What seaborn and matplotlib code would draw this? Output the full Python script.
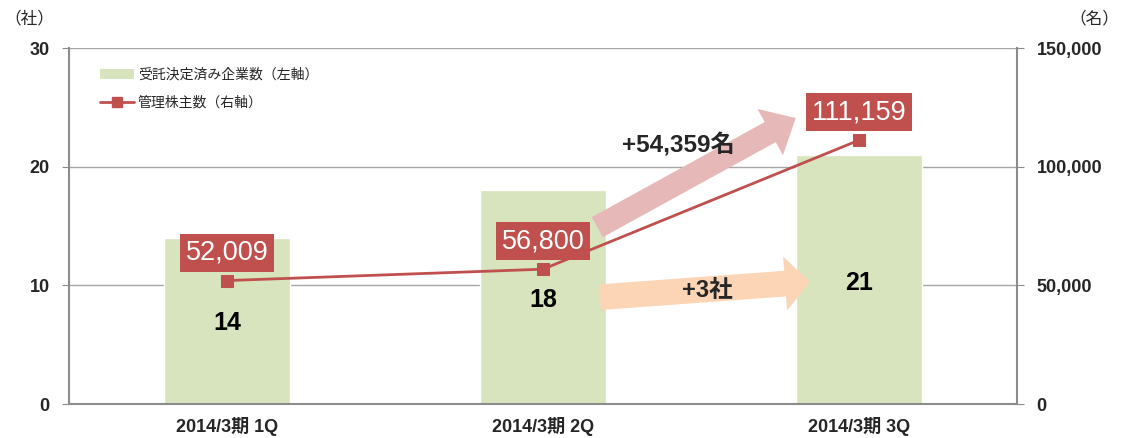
import matplotlib
matplotlib.use("Agg")
import matplotlib.pyplot as plt
import matplotlib.ticker as mticker
from matplotlib.patches import FancyArrowPatch, Patch
from matplotlib.lines import Line2D
import numpy as np
import seaborn as sns

# data
quarters = ["2014/3期 1Q", "2014/3期 2Q", "2014/3期 3Q"]
companies = [14, 18, 21]           # 受託決定済み企業数 (left axis)
holders = [52009, 56800, 111159]   # 管理株主数 (right axis)
holder_labels = ["52,009", "56,800", "111,159"]
company_delta = "+3社"
holder_delta = "+54,359名"

sns.set_style("white")
FONT = ["Liberation Sans", "Noto Sans CJK JP"]
plt.rcParams["font.family"] = FONT

GREEN = "#D7E4BD"
RED = "#C0504D"
PINK = "#E6B9B8"
PEACH = "#FBD5B5"
GRID = "#A6A6A6"

fig = plt.figure(figsize=(11.23, 4.38), dpi=100)
ax = fig.add_axes([0.0614, 0.0776, 0.8442, 0.8128])

sns.barplot(x=quarters, y=companies, color=GREEN, width=0.4, saturation=1,
            ax=ax, zorder=2)
ax.set_xlim(-0.5, 2.5)
ax.set_ylim(0, 30)
ax.set_yticks([0, 10, 20, 30])
ax.yaxis.grid(True, color=GRID, lw=1)
ax.set_axisbelow(True)
ax.set_xlabel("")
ax.set_ylabel("")
for s in ["left", "bottom", "right"]:
    ax.spines[s].set_color("#8C8C8C")
    ax.spines[s].set_linewidth(1.5)
ax.spines["top"].set_visible(False)
ax.tick_params(axis="y", direction="out", length=5, color="#8C8C8C",
               labelsize=13, pad=9)
ax.tick_params(axis="x", length=0, labelsize=13, pad=9)
ax.set_xticks([-0.5, 0.5, 1.5, 2.5], minor=True)
ax.tick_params(axis="x", which="minor", direction="out", length=5,
               color="#8C8C8C")
for t in ax.get_xticklabels() + ax.get_yticklabels():
    t.set_fontweight("bold")

# bar values
for i, v in enumerate(companies):
    ax.text(i, v * 0.485, str(v), ha="center", va="center",
            fontsize=18, fontweight="bold", color="black", zorder=5)

ax2 = ax.twinx()
sns.lineplot(x=np.arange(len(holders)), y=holders, ax=ax2, color=RED,
             lw=2, marker="s", markersize=8, markeredgecolor=RED, zorder=4)
ax2.set_ylim(0, 150000)
ax2.set_yticks([0, 50000, 100000, 150000])
ax2.yaxis.set_major_formatter(mticker.FuncFormatter(lambda v, p: f"{int(v):,}"))
ax2.tick_params(axis="y", direction="out", length=5, color="#8C8C8C",
                labelsize=13, pad=9)
for t in ax2.get_yticklabels():
    t.set_fontweight("bold")
for s in ax2.spines.values():
    s.set_visible(False)
ax2.set_ylabel("")

for i, (v, lab) in enumerate(zip(holders, holder_labels)):
    ax2.annotate(lab, xy=(i, v), xytext=(0, 20), textcoords="offset points",
                 ha="center", va="center", fontsize=19.5, color="white",
                 bbox=dict(boxstyle="square,pad=0.22", fc=RED, ec="none"),
                 zorder=6)

# growth arrows (left-axis data coords)
pink = FancyArrowPatch((1.172, 14.9), (1.80, 24.1),
                       arrowstyle="simple,head_length=2.1,head_width=3.8,tail_width=1.65",
                       mutation_scale=10, fc=PINK, ec="none", shrinkA=0, shrinkB=0,
                       zorder=3)
ax.add_patch(pink)
peach = FancyArrowPatch((1.18, 9.0), (1.845, 10.3),
                        arrowstyle="simple,head_length=1.8,head_width=3.9,tail_width=1.85",
                        mutation_scale=10, fc=PEACH, ec="none", shrinkA=0, shrinkB=0,
                        zorder=3)
ax.add_patch(peach)
ax.text(1.43, 21.8, holder_delta, ha="center", va="center", fontsize=17.5,
        fontweight="bold", zorder=5)
ax.text(1.52, 9.6, company_delta, ha="center", va="center", fontsize=17,
        fontweight="bold", zorder=5)

# unit labels
fig.text(0.004, 0.958, "（社）", fontsize=12, ha="left", va="center")
fig.text(0.997, 0.958, "（名）", fontsize=12, ha="right", va="center")

handles = [Patch(facecolor=GREEN, edgecolor="none"),
           Line2D([0], [0], color=RED, lw=2, marker="s", markersize=7)]
leg = ax.legend(handles, ["受託決定済み企業数（左軸）", "管理株主数（右軸）"],
                loc="upper left", bbox_to_anchor=(0.02, 0.98), frameon=False,
                fontsize=10, handlelength=2.4, labelspacing=1.0, handletextpad=0.3)
leg.set_zorder(10)

fig.savefig("out.png", dpi=100)
